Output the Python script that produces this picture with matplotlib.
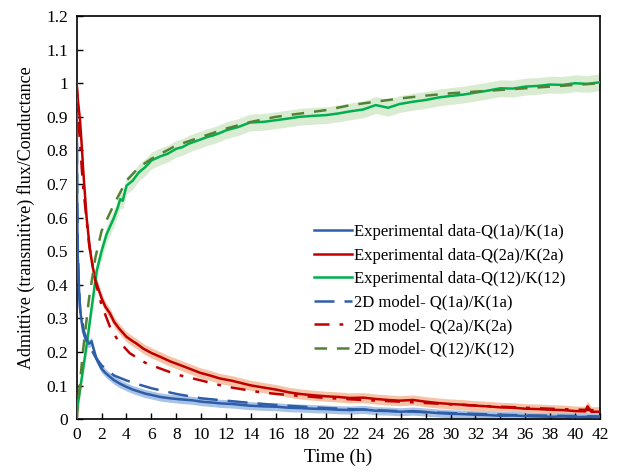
import numpy as np
import matplotlib
matplotlib.use('Agg')
import matplotlib.pyplot as plt

plt.rcParams['font.family'] = ['Liberation Serif', 'DejaVu Serif']

t_exp_1a = [0, 0.03, 0.08, 0.13, 0.2, 0.27, 0.4, 0.53, 0.7, 0.9, 1.07, 1.2, 1.35, 1.6, 2.0,
            2.3, 2.67, 3.0, 3.5, 4.0, 4.5, 5.0, 5.5, 6.0, 6.7, 7.5, 8.3, 9.3, 10, 11, 11.5,
            12.5, 13.9, 15, 16, 17, 17.9, 19, 20, 21, 22, 23, 24, 25, 26, 27, 28, 29, 30,
            31, 32, 33, 34, 35, 36, 37, 38, 39, 40, 41, 42]
q_exp_1a = [1.0, 0.7, 0.5, 0.45, 0.38, 0.33, 0.29, 0.26, 0.24, 0.225, 0.226, 0.232, 0.21,
            0.178, 0.15, 0.138, 0.126, 0.116, 0.105, 0.096, 0.088, 0.082, 0.076, 0.072,
            0.066, 0.062, 0.059, 0.056, 0.052, 0.049, 0.047, 0.045, 0.040, 0.038, 0.037,
            0.034, 0.033, 0.031, 0.030, 0.028, 0.027, 0.029, 0.025, 0.024, 0.022, 0.024,
            0.021, 0.018, 0.016, 0.015, 0.013, 0.012, 0.010, 0.011, 0.009, 0.008, 0.007,
            0.008, 0.006, 0.007, 0.006]

t_exp_2a = [0, 0.1, 0.27, 0.4, 0.53, 0.8, 1.07, 1.3, 1.6, 2.0, 2.3, 2.67, 3.0, 3.4, 4.0,
            4.5, 4.8, 5.35, 6.0, 6.68, 7.5, 8.3, 9.35, 9.9, 10.7, 11.5, 12.5, 13.9, 15, 16,
            17, 17.9, 19, 20, 21, 21.9, 23, 24, 25, 25.9, 27, 28, 29, 30, 31, 32, 33, 34,
            35, 36, 37, 38, 39, 40, 40.8, 41, 41.3, 42]
q_exp_2a = [1.0, 0.95, 0.89, 0.82, 0.74, 0.6, 0.504, 0.45, 0.404, 0.36, 0.335, 0.315, 0.29,
            0.27, 0.245, 0.232, 0.225, 0.21, 0.197, 0.186, 0.172, 0.161, 0.146, 0.138, 0.13,
            0.121, 0.114, 0.101, 0.094, 0.088, 0.08, 0.075, 0.071, 0.068, 0.066, 0.063,
            0.064, 0.06, 0.057, 0.055, 0.057, 0.052, 0.048, 0.045, 0.043, 0.04, 0.038,
            0.035, 0.034, 0.031, 0.03, 0.028, 0.027, 0.024, 0.023, 0.038, 0.022, 0.022]

t_exp_12 = [0, 0.4, 0.8, 1.2, 1.6, 2.0, 2.4, 3.0, 3.3, 3.5, 3.7, 4.0, 4.5, 5.0, 5.5, 6.0,
            6.7, 7.3, 8.0, 8.5, 9.0, 9.9, 10.5, 11.0, 11.5, 12.0, 13.0, 13.9, 15, 16, 17,
            17.9, 19, 20, 21, 21.9, 23, 24, 25, 25.9, 27, 28, 29.1, 30, 31, 32, 33, 34, 35,
            36, 37, 38, 39, 40, 41, 42]
q_exp_12 = [0.02, 0.12, 0.22, 0.33, 0.44, 0.5, 0.55, 0.6, 0.63, 0.655, 0.65, 0.695, 0.71,
            0.735, 0.75, 0.77, 0.782, 0.79, 0.805, 0.81, 0.82, 0.832, 0.84, 0.845, 0.852,
            0.86, 0.87, 0.883, 0.885, 0.89, 0.895, 0.9, 0.903, 0.905, 0.91, 0.916, 0.922,
            0.935, 0.927, 0.938, 0.945, 0.95, 0.958, 0.962, 0.966, 0.972, 0.978, 0.985,
            0.984, 0.99, 0.992, 0.996, 0.995, 1.0, 0.998, 1.003]

# 2D model curves
t_mod_1a = [0, 0.05, 0.1, 0.2, 0.3, 0.6, 1.0, 1.5, 2.0, 3.0, 4.0, 5.0, 6.0, 8.0, 10.0,
            12.0, 14.0, 16.0, 20.0, 25.0, 30.0, 35.0, 42.0]
q_mod_1a = [1.0, 0.65, 0.5, 0.38, 0.32, 0.26, 0.22, 0.185, 0.16, 0.13, 0.115, 0.103, 0.092,
            0.075, 0.062, 0.055, 0.048, 0.042, 0.033, 0.025, 0.018, 0.012, 0.008]

t_mod_2a = [0, 0.2, 0.5, 1.0, 1.5, 2.0, 2.67, 3.3, 4.27, 5.5, 6.68, 8, 9.9, 11.5, 12.6,
            14.4, 16, 18, 20, 23, 26, 30, 34, 38, 42]
q_mod_2a = [1.0, 0.86, 0.7, 0.52, 0.41, 0.34, 0.275, 0.235, 0.196, 0.168, 0.151, 0.133,
            0.116, 0.101, 0.093, 0.082, 0.075, 0.069, 0.063, 0.057, 0.052, 0.044, 0.037,
            0.031, 0.026]

t_mod_12 = [0, 0.5, 1, 1.5, 2, 3, 4, 5, 6, 8, 10, 12, 14, 16, 18, 20, 22, 24, 26, 28, 30,
            34, 38, 42]
q_mod_12 = [0.0, 0.2, 0.36, 0.48, 0.56, 0.64, 0.71, 0.75, 0.775, 0.815, 0.84, 0.865, 0.885,
            0.9, 0.91, 0.92, 0.935, 0.945, 0.955, 0.963, 0.97, 0.98, 0.99, 1.0]

# error band half-widths
err_1a = 0.012
err_2a = 0.015
err_12 = 0.025

labels = ['Experimental data-Q(1a)/K(1a)', 'Experimental data-Q(2a)/K(2a)',
          'Experimental data-Q(12)/K(12)', '2D model- Q(1a)/K(1a)',
          '2D model- Q(2a)/K(2a)', '2D model- Q(12)/K(12)']

fig = plt.figure(figsize=(6.18, 4.72), dpi=100)
ax = fig.add_axes([0.124, 0.112, 0.847, 0.854])

# error bands
for t, q, e, c in [(t_exp_12, q_exp_12, err_12, '#d9ecd2'),
                   (t_exp_2a, q_exp_2a, err_2a, '#f7c3a6'),
                   (t_exp_1a, q_exp_1a, err_1a, '#a8c3e6')]:
    q = np.array(q)
    ax.fill_between(t, q - e, q + e, color=c, lw=0, zorder=1)

l1, = ax.plot(t_exp_1a, q_exp_1a, color='#2f5ea8', lw=1.8, zorder=3)
l2, = ax.plot(t_exp_2a, q_exp_2a, color='#c00000', lw=1.8, zorder=3)
l3, = ax.plot(t_exp_12, q_exp_12, color='#00b050', lw=1.8, zorder=3)
l4, = ax.plot(t_mod_1a, q_mod_1a, color='#2f5ea8', lw=1.8, ls=(0, (8, 4)), zorder=4)
l5, = ax.plot(t_mod_2a, q_mod_2a, color='#c00000', lw=1.8, ls=(0, (6, 4, 1.5, 4)), zorder=4)
l6, = ax.plot(t_mod_12, q_mod_12, color='#548235', lw=1.8, ls=(0, (5, 4)), zorder=4)

ax.set_xlim(0, 42)
ax.set_ylim(0, 1.2)
ax.set_xticks(np.arange(0, 43, 2))
yt = np.round(np.arange(0, 1.21, 0.1), 1)
ax.set_yticks(yt)
ax.set_yticklabels(['0' if v == 0 else ('1' if v == 1 else f'{v:g}') for v in yt])
ax.tick_params(direction='in', length=4, width=1, labelsize=12.5, pad=6)
for s in ax.spines.values():
    s.set_linewidth(1.2)

ax.set_xlabel('Time (h)', fontsize=14, labelpad=4)
ax.set_ylabel('Admittive (transmitive) flux/Conductance', fontsize=13, labelpad=8)

ax.legend([l1, l2, l3, l4, l5, l6], labels, loc='upper left',
          bbox_to_anchor=(0.44, 0.5), frameon=False, fontsize=12,
          handlelength=2.3, handletextpad=0.15, labelspacing=0.45, borderaxespad=0)

fig.savefig('out.png', dpi=100)
